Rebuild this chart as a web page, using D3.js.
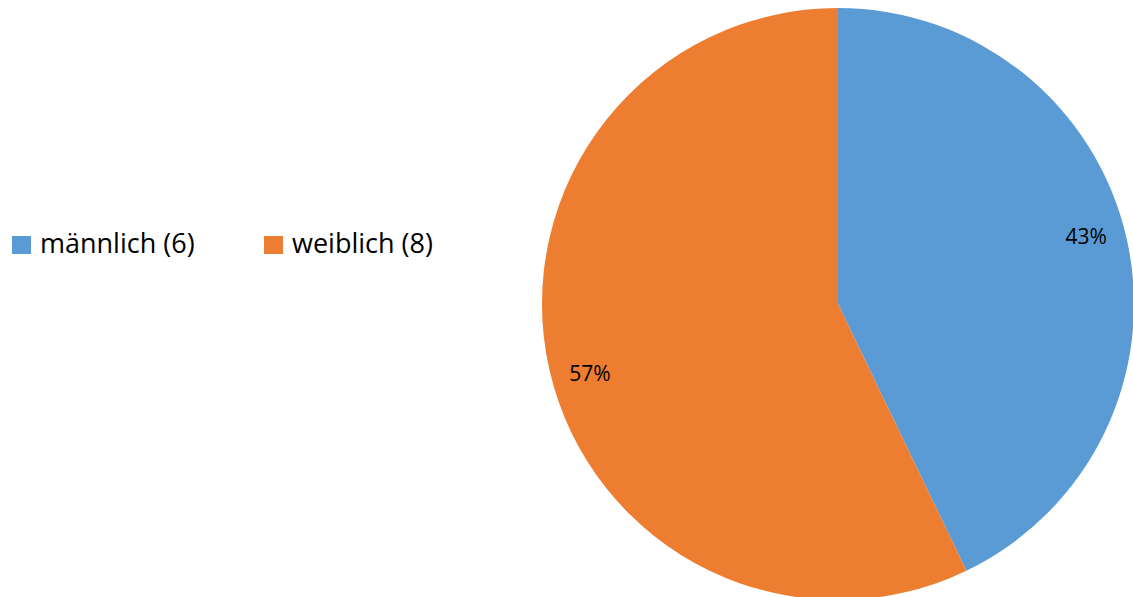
<!DOCTYPE html>
<html>
<head>
<meta charset="utf-8">
<script src="https://cdn.jsdelivr.net/npm/d3@7/dist/d3.min.js"></script>
<style>
  html, body { margin: 0; padding: 0; background: #fff; }
  svg { display: block; font-family: "Open Sans", "Noto Sans", sans-serif; }
</style>
</head>
<body>
<svg id="chart" width="1133" height="597"></svg>
<script>
// Geschlechterverteilung
const categories = ["männlich", "weiblich"];
const counts = [6, 8];
const colors = ["#5B9BD5", "#ED7D31"];

const width = 1133, height = 597;
const svg = d3.select("#chart");

const cx = 838, cy = 304, radius = 296;

const total = d3.sum(counts);
const pie = d3.pie().sort(null).value(d => d.value);
const arcs = pie(categories.map((c, i) => ({ name: c, value: counts[i], color: colors[i] })));

const arc = d3.arc().innerRadius(0).outerRadius(radius);
const labelArc = d3.arc().innerRadius(radius * 0.86).outerRadius(radius * 0.86);

const g = svg.append("g").attr("transform", `translate(${cx},${cy})`);

g.selectAll("path.slice")
  .data(arcs)
  .join("path")
  .attr("class", "slice")
  .attr("d", arc)
  .attr("fill", d => d.data.color);

// Prozentangaben
const pct = d3.format(".0%");
const labelShift = [-11, 12];
g.selectAll("text.pct")
  .data(arcs)
  .join("text")
  .attr("class", "pct")
  .attr("transform", (d, i) => {
    const [x, y] = labelArc.centroid(d);
    return `translate(${x},${y + labelShift[i]})`;
  })
  .attr("text-anchor", "middle")
  .attr("dominant-baseline", "central")
  .attr("font-size", 21)
  .attr("fill", "#000")
  .text(d => pct(d.data.value / total));

// Legende
const legend = svg.append("g").attr("transform", "translate(12,245)");
const legendX = d3.scalePoint().domain(categories).range([0, 252]);
const item = legend.selectAll("g.item")
  .data(arcs)
  .join("g")
  .attr("class", "item")
  .attr("transform", d => `translate(${legendX(d.data.name)},0)`);
item.append("rect")
  .attr("x", 0).attr("y", -9)
  .attr("width", 19).attr("height", 18)
  .attr("fill", d => d.data.color);
item.append("text")
  .attr("x", 28)
  .attr("y", 8)
  .attr("font-size", 27)
  .attr("fill", "#000")
  .text(d => `${d.data.name} (${d.data.value})`);
</script>
</body>
</html>
